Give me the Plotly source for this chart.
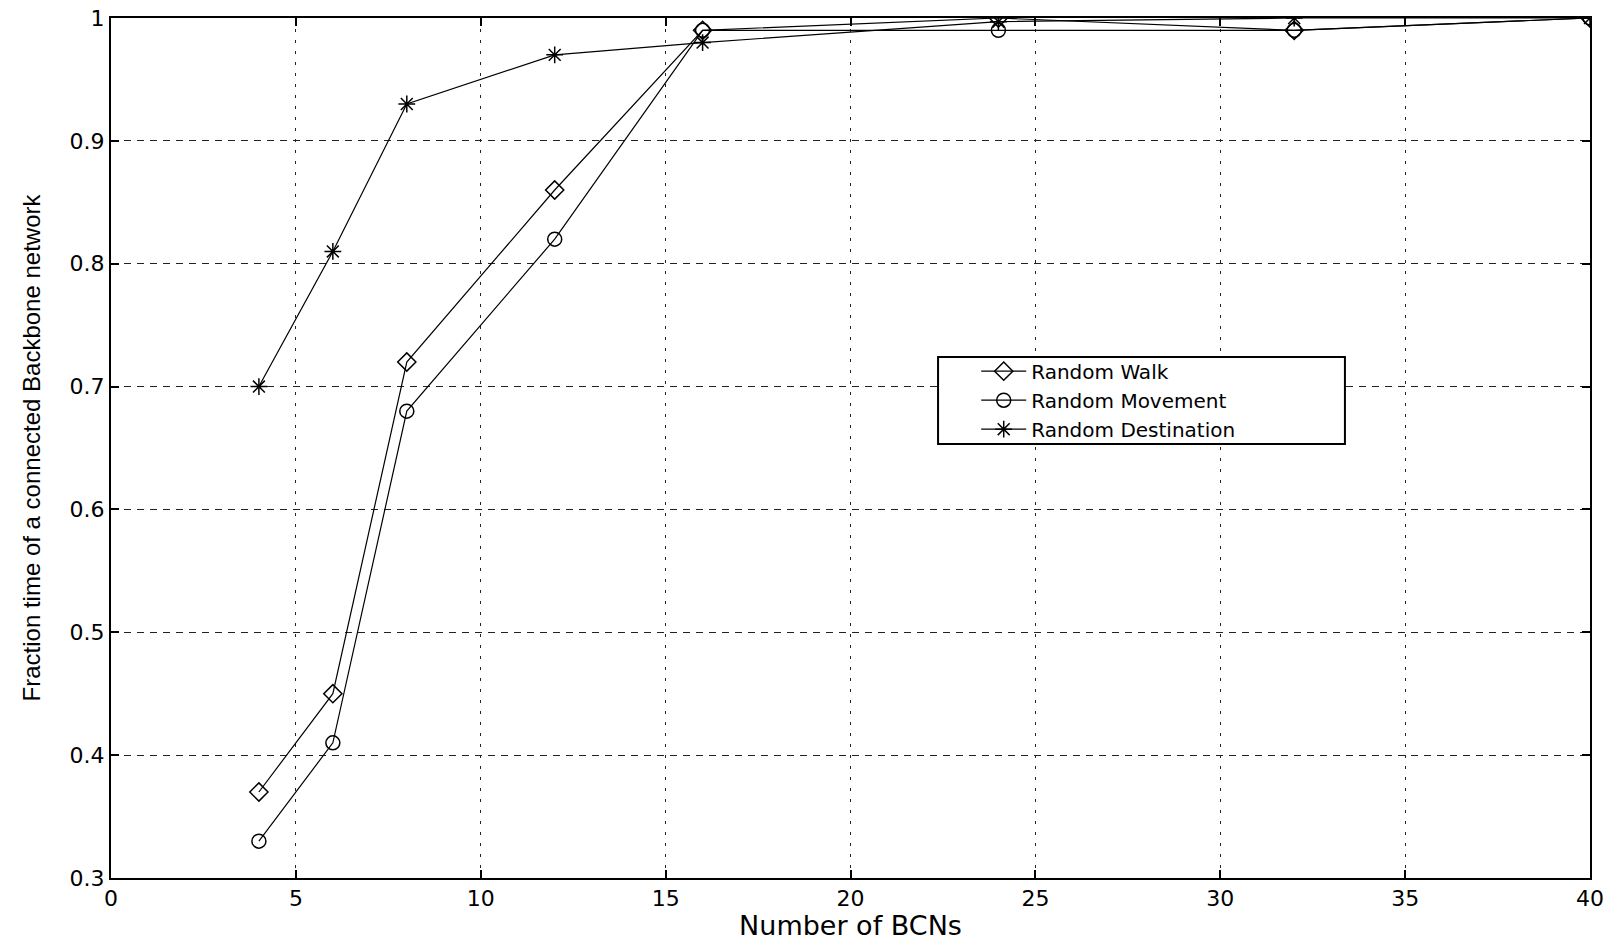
import plotly.graph_objects as go

x_vals = [4, 6, 8, 12, 16, 24, 32, 40]
random_walk = [0.37, 0.45, 0.72, 0.86, 0.99, 1.0, 0.99, 1.0]
random_movement = [0.33, 0.41, 0.68, 0.82, 0.99, 0.99, 0.99, 1.0]
random_destination = [0.70, 0.81, 0.93, 0.97, 0.98, 0.997, 1.0, 1.0]
series_names = ["Random Walk", "Random Movement", "Random Destination"]
x_ticks = [0, 5, 10, 15, 20, 25, 30, 35, 40]
y_ticks = [0.3, 0.4, 0.5, 0.6, 0.7, 0.8, 0.9, 1.0]
y_tick_text = ["0.3", "0.4", "0.5", "0.6", "0.7", "0.8", "0.9", "1"]

fig = go.Figure()
symbols = ["diamond-open", "circle-open", "asterisk-open"]
for name, ys, sym in zip(series_names, [random_walk, random_movement, random_destination], symbols):
    fig.add_trace(go.Scatter(
        x=x_vals, y=ys, name=name, mode="lines+markers",
        line=dict(color="black", width=1.2),
        marker=dict(symbol=sym, size=14, color="black", line=dict(width=1.5, color="black")),
    ))

tick_font = dict(family="DejaVu Sans, sans-serif", size=22, color="black")
axis_common = dict(
    showline=True, linecolor="black", linewidth=2, mirror="ticks",
    ticks="inside", ticklen=8, tickcolor="black", tickwidth=1.5,
    showgrid=True, gridcolor="#222222", gridwidth=1,
    zeroline=False, automargin=False, ticklabeloverflow="allow",
    tickfont=tick_font,
)

# legend frame (paper coordinates)
fig.add_shape(type="rect", xref="paper", yref="paper",
              x0=0.5592, x1=0.8343, y0=0.5047, y1=0.6058,
              line=dict(color="black", width=2), fillcolor="white", layer="above")

fig.update_layout(
    width=1608, height=941,
    margin=dict(l=111, r=18, t=18, b=63),
    paper_bgcolor="white", plot_bgcolor="white",
    showlegend=True,
    legend=dict(
        x=0.585, y=0.612, xanchor="left", yanchor="top",
        bgcolor="rgba(0,0,0,0)", borderwidth=0,
        font=dict(family="DejaVu Sans, sans-serif", size=20, color="black"),
        tracegroupgap=0, itemwidth=45,
    ),
    xaxis=dict(
        range=[0, 40], tickvals=x_ticks, griddash="3px,8px",
        title=dict(text="Number of BCNs", standoff=10,
                   font=dict(family="DejaVu Sans, sans-serif", size=27, color="black")),
        **axis_common,
    ),
    yaxis=dict(
        range=[0.3, 1.0], tickvals=y_ticks, ticktext=y_tick_text, griddash="7px,6px",
        title=dict(text="Fraction time of a connected Backbone network", standoff=22,
                   font=dict(family="Liberation Sans, Arial, sans-serif", size=24, color="black")),
        **axis_common,
    ),
)

fig.write_html(
    "out.html",
    config=dict(displayModeBar=False),
    post_script="document.body.style.margin='0';document.body.style.overflow='hidden';",
)
